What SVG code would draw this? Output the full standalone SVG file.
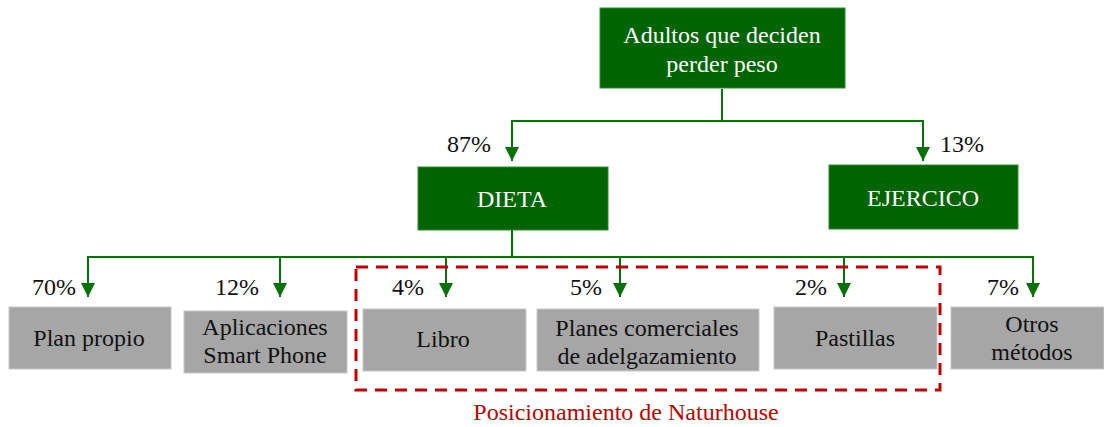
<svg xmlns="http://www.w3.org/2000/svg" width="1104" height="427" viewBox="0 0 1104 427">
  <style>
    text { font-family: 'Liberation Serif', 'Times New Roman', Times, serif; font-size: 24px; text-anchor: middle; }
    .w { fill: #ffffff; }
    .k { fill: #111111; }
    .g { fill: #006400; stroke: #2e8b2e; stroke-width: 1; }
    .s { fill: #a6a6a6; stroke: #c8c8c8; stroke-width: 1; }
    .c { fill: none; stroke: #0a700a; stroke-width: 2; }
  </style>
  <defs>
    <marker id="ah" markerUnits="userSpaceOnUse" markerWidth="14" markerHeight="14" viewBox="0 0 14 14" refX="14" refY="7" orient="auto">
      <path d="M0,0 L14,7 L0,14 z" fill="#0a700a"/>
    </marker>
  </defs>
  <rect width="1104" height="427" fill="#ffffff"/>

  <g id="connectors">
    <path class="c" d="M722 89 V121 M511 121 H924"/>
    <path class="c" d="M512 121 V161" marker-end="url(#ah)"/>
    <path class="c" d="M923 121 V161" marker-end="url(#ah)"/>
    <path class="c" d="M512 230 V257 M87 257 H1034"/>
    <path class="c" d="M88 257 V297" marker-end="url(#ah)"/>
    <path class="c" d="M280 257 V297" marker-end="url(#ah)"/>
    <path class="c" d="M446 257 V297" marker-end="url(#ah)"/>
    <path class="c" d="M620 257 V297" marker-end="url(#ah)"/>
    <path class="c" d="M844 257 V297" marker-end="url(#ah)"/>
    <path class="c" d="M1033 257 V297" marker-end="url(#ah)"/>
  </g>

  <g id="root">
    <rect class="g" x="600" y="8" width="245" height="80"/>
    <text class="w" x="722" y="43">Adultos que deciden</text>
    <text class="w" x="722" y="72">perder peso</text>
  </g>
  <g id="dieta">
    <rect class="g" x="418" y="167" width="190" height="63"/>
    <text class="w" x="512" y="207">DIETA</text>
    <text class="k" x="469" y="152">87%</text>
  </g>
  <g id="ejercicio">
    <rect class="g" x="829" y="165" width="189" height="64"/>
    <text class="w" x="923" y="206">EJERCICO</text>
    <text class="k" x="962" y="152">13%</text>
  </g>

  <g id="plan-propio">
    <rect class="s" x="9" y="307" width="162" height="62"/>
    <text class="k" x="89" y="346">Plan propio</text>
    <text class="k" x="54" y="295">70%</text>
  </g>
  <g id="aplicaciones">
    <rect class="s" x="184" y="311" width="163" height="62"/>
    <text class="k" x="265" y="335">Aplicaciones</text>
    <text class="k" x="265" y="363">Smart Phone</text>
    <text class="k" x="237" y="295">12%</text>
  </g>
  <g id="libro">
    <rect class="s" x="363" y="309" width="163" height="62"/>
    <text class="k" x="443" y="347">Libro</text>
    <text class="k" x="408" y="295">4%</text>
  </g>
  <g id="planes">
    <rect class="s" x="537" y="309" width="222" height="62"/>
    <text class="k" x="647" y="336">Planes comerciales</text>
    <text class="k" x="647" y="364">de adelgazamiento</text>
    <text class="k" x="586" y="295">5%</text>
  </g>
  <g id="pastillas">
    <rect class="s" x="774" y="307" width="163" height="62"/>
    <text class="k" x="855" y="346">Pastillas</text>
    <text class="k" x="811" y="295">2%</text>
  </g>
  <g id="otros">
    <rect class="s" x="951" y="307" width="153" height="62"/>
    <text class="k" x="1032" y="332">Otros</text>
    <text class="k" x="1032" y="360">métodos</text>
    <text class="k" x="1003" y="295">7%</text>
  </g>

  <g id="naturhouse">
    <rect x="356" y="267" width="584" height="123" fill="none" stroke="#c00000" stroke-width="3" stroke-dasharray="12 8"/>
    <text x="626" y="420" fill="#c00000">Posicionamiento de Naturhouse</text>
  </g>
</svg>
